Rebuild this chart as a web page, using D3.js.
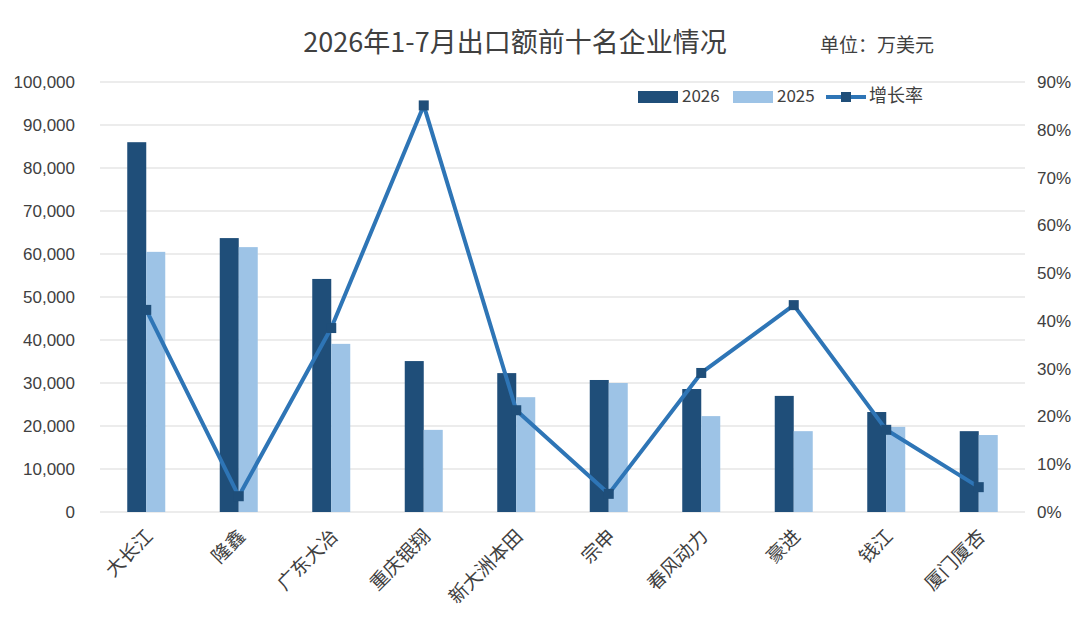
<!DOCTYPE html>
<html><head><meta charset="utf-8">
<script src="https://cdn.jsdelivr.net/npm/d3@7.9.0/dist/d3.min.js"></script>
<style>body{margin:0;background:#fff;font-family:"Noto Sans CJK SC","Noto Sans",sans-serif;}</style>
</head><body><svg id="chart" width="1080" height="622"></svg>
<script>
const categories = ['大长江','隆鑫','广东大冶','重庆银翔','新大洲本田','宗申','春风动力','豪进','钱江','厦门厦杏'];
const values2026 = [86000, 63700, 54200, 35100, 32300, 30700, 28600, 27000, 23250, 18800];
const values2025 = [60500, 61600, 39100, 19100, 26700, 30000, 22300, 18800, 19800, 17900];
const growth = [0.423, 0.033, 0.385, 0.851, 0.213, 0.038, 0.291, 0.433, 0.172, 0.052];

const svg = d3.select('#chart');
const plotLeft = 100, plotRight = 1025, plotTop = 82, plotBottom = 512;
const x = d3.scaleBand().domain(categories).range([plotLeft, plotRight]);
const y = d3.scaleLinear().domain([0, 100000]).range([plotBottom, plotTop]);
const y2 = d3.scaleLinear().domain([0, 0.9]).range([plotBottom, plotTop]);
const textColor = '#404040';
const c26 = '#1f4e79', c25 = '#9dc3e6', cLine = '#2e75b6';
const bw = 19;

// gridlines
svg.append('g').selectAll('line').data(y.ticks(10)).join('line')
  .attr('x1', plotLeft).attr('x2', plotRight)
  .attr('y1', d => y(d)).attr('y2', d => y(d))
  .attr('stroke', '#d9d9d9');

// axes
const yAxis = svg.append('g').attr('transform', `translate(${plotLeft},0)`)
  .call(d3.axisLeft(y).ticks(10).tickFormat(d3.format(',')).tickSize(0).tickPadding(25));
const y2Axis = svg.append('g').attr('transform', `translate(${plotRight},0)`)
  .call(d3.axisRight(y2).ticks(9).tickFormat(d3.format('.0%')).tickSize(0).tickPadding(12));
[yAxis, y2Axis].forEach(g => {
  g.select('.domain').remove();
  g.selectAll('text').attr('fill', textColor).attr('font-size', 17).attr('font-family', 'Liberation Sans, sans-serif');
});

// bars
const cx = d => x(d) + x.bandwidth() / 2;
svg.append('g').selectAll('rect').data(categories).join('rect')
  .attr('x', d => cx(d) - bw).attr('width', bw)
  .attr('y', (d, i) => y(values2026[i])).attr('height', (d, i) => plotBottom - y(values2026[i]))
  .attr('fill', c26);
svg.append('g').selectAll('rect').data(categories).join('rect')
  .attr('x', d => cx(d)).attr('width', bw)
  .attr('y', (d, i) => y(values2025[i])).attr('height', (d, i) => plotBottom - y(values2025[i]))
  .attr('fill', c25);

// growth line
const line = d3.line().x((d, i) => cx(categories[i])).y(d => y2(d));
svg.append('path').datum(growth).attr('d', line)
  .attr('fill', 'none').attr('stroke', cLine).attr('stroke-width', 4).attr('stroke-linejoin', 'round');
svg.append('g').selectAll('rect').data(growth).join('rect')
  .attr('x', (d, i) => cx(categories[i]) - 5).attr('y', d => y2(d) - 5)
  .attr('width', 10).attr('height', 10).attr('fill', c26);

// x labels
svg.append('g').selectAll('text').data(categories).join('text')
  .attr('transform', d => `translate(${cx(d) + 4},${plotBottom + 22}) rotate(-45)`)
  .attr('text-anchor', 'end').attr('dominant-baseline', 'middle')
  .attr('font-size', 19).attr('fill', textColor).text(d => d);

// title
svg.append('text').attr('x', 515).attr('y', 52).attr('text-anchor', 'middle')
  .attr('font-size', 27).attr('fill', textColor).text('2026年1-7月出口额前十名企业情况');
svg.append('text').attr('x', 820).attr('y', 52)
  .attr('font-size', 19).attr('fill', textColor).text('单位：万美元');

// legend
const lg = svg.append('g').attr('transform', 'translate(638,97)');
lg.append('rect').attr('x', 0).attr('y', -6).attr('width', 40).attr('height', 12).attr('fill', c26);
lg.append('text').attr('x', 44).attr('y', 0).attr('dominant-baseline', 'middle').attr('font-size', 17).attr('fill', textColor).text('2026');
lg.append('rect').attr('x', 95).attr('y', -6).attr('width', 40).attr('height', 12).attr('fill', c25);
lg.append('text').attr('x', 139).attr('y', 0).attr('dominant-baseline', 'middle').attr('font-size', 17).attr('fill', textColor).text('2025');
lg.append('line').attr('x1', 188).attr('x2', 228).attr('y1', 0).attr('y2', 0).attr('stroke', cLine).attr('stroke-width', 4);
lg.append('rect').attr('x', 203).attr('y', -5).attr('width', 10).attr('height', 10).attr('fill', c26);
lg.append('text').attr('x', 231).attr('y', 0).attr('dominant-baseline', 'middle').attr('font-size', 18).attr('fill', textColor).text('增长率');
</script></body></html>
